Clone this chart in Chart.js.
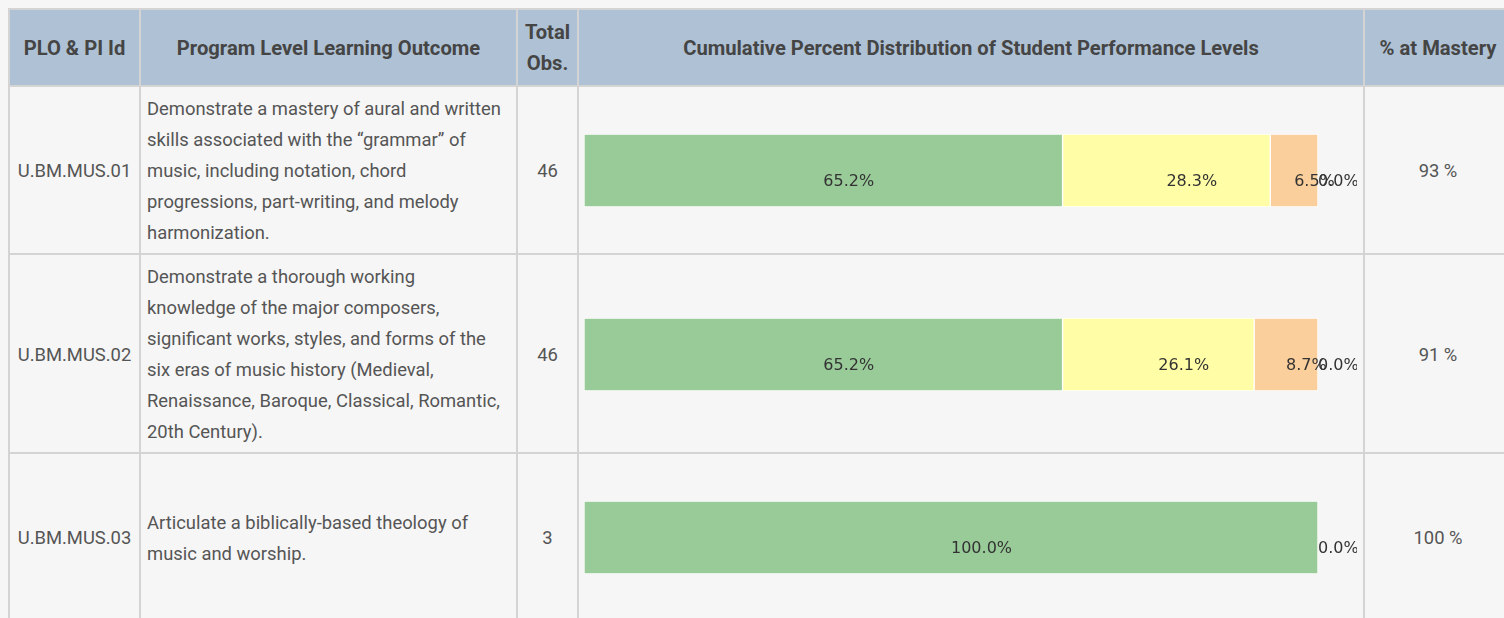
<!DOCTYPE html>
<html>
<head>
<meta charset="utf-8">
<script src="https://cdn.jsdelivr.net/npm/chart.js@4"></script>
<style>
  html, body { margin: 0; padding: 0; background: #f6f6f6; overflow: hidden; }
  body { width: 1504px; height: 618px; position: relative; }
  #plo-table {
    position: absolute; left: 8px; top: 8px;
    border-collapse: collapse; table-layout: fixed; width: 1505px;
    font-family: Roboto, "Noto Sans", sans-serif; color: #555;
    font-size: 18.4px; line-height: 31px;
  }
  #plo-table th, #plo-table td { border: 2px solid #d4d4d4; padding: 6px 6px 5px 6px; }
  #plo-table th { background: #afc1d4; color: #454545; font-weight: bold; font-size: 20.2px; text-align: center; padding: 7px 6px 6px 6px; }
  #plo-table td { text-align: center; vertical-align: middle; }
  #plo-table td.outcome { text-align: left; padding-right: 10px; }
  #plo-table td.chart-cell { padding-left: 5px; }
  .chart-box { position: relative; width: 100%; height: 155px; }
</style>
</head>
<body>
<table id="plo-table">
  <colgroup>
    <col style="width:131px"><col style="width:377px"><col style="width:61px"><col style="width:786px"><col style="width:148px">
  </colgroup>
  <thead>
    <tr>
      <th>PLO &amp; PI Id</th>
      <th>Program Level Learning Outcome</th>
      <th>Total Obs.</th>
      <th>Cumulative Percent Distribution of Student Performance Levels</th>
      <th>% at Mastery</th>
    </tr>
  </thead>
  <tbody id="tableBody"></tbody>
</table>

<script>
const ploIds = ["U.BM.MUS.01", "U.BM.MUS.02", "U.BM.MUS.03"];
const outcomes = [
  "Demonstrate a mastery of aural and written skills associated with the \u201cgrammar\u201d of music, including notation, chord progressions, part-writing, and melody harmonization.",
  "Demonstrate a thorough working knowledge of the major composers, significant works, styles, and forms of the six eras of music history (Medieval, Renaissance, Baroque, Classical, Romantic, 20th Century).",
  "Articulate a biblically-based theology of music and worship."
];
const totalObs = [46, 46, 3];
const levelNames = ["Exceeds", "Meets", "Approaching", "Does Not Meet"];
const exceedsPct = [65.2, 65.2, 100.0];
const meetsPct = [28.3, 26.1, 0.0];
const approachingPct = [6.5, 8.7, 0.0];
const notMeetPct = [0.0, 0.0, 0.0];
const masteryPct = [93, 91, 100];

const levelColors = ["#99cb99", "#fffea6", "#fbcf9b", "#f4a3a3"];
const levelData = [exceedsPct, meetsPct, approachingPct, notMeetPct];

// draws the percent text on each segment (same text on same spot only once)
const segmentLabels = {
  id: "segmentLabels",
  afterDatasetsDraw(chart) {
    const ctx = chart.ctx;
    const done = {};
    ctx.save();
    ctx.font = "16px 'DejaVu Sans'";
    ctx.fillStyle = "#333";
    ctx.textAlign = "left";
    ctx.textBaseline = "top";
    chart.data.datasets.forEach((ds, i) => {
      const meta = chart.getDatasetMeta(i);
      meta.data.forEach((bar, j) => {
        const mid = (bar.x + bar.base) / 2;
        const txt = ds.data[j].toFixed(1) + "%";
        const key = txt + "@" + Math.round(mid);
        if (done[key]) return;
        done[key] = true;
        ctx.fillText(txt, mid, bar.y + 3);
      });
    });
    ctx.restore();
  }
};

const tbody = document.getElementById("tableBody");

ploIds.forEach((id, row) => {
  const tr = document.createElement("tr");

  const idCell = document.createElement("td");
  idCell.textContent = id;
  const outcomeCell = document.createElement("td");
  outcomeCell.classList.add("outcome");
  outcomeCell.textContent = outcomes[row];
  const totalCell = document.createElement("td");
  totalCell.textContent = totalObs[row];
  const chartCell = document.createElement("td");
  chartCell.classList.add("chart-cell");
  const box = document.createElement("div");
  box.classList.add("chart-box");
  const canvas = document.createElement("canvas");
  box.append(canvas);
  chartCell.append(box);
  const masteryCell = document.createElement("td");
  masteryCell.textContent = masteryPct[row] + " %";

  tr.append(idCell, outcomeCell, totalCell, chartCell, masteryCell);
  tbody.append(tr);

  new Chart(canvas.getContext("2d"), {
    type: "bar",
    data: {
      labels: [id],
      datasets: levelNames.map((name, k) => ({
        label: name,
        data: [levelData[k][row]],
        backgroundColor: levelColors[k],
        borderColor: "#ffffff",
        borderWidth: 1,
        borderSkipped: false,
        barThickness: 73
      }))
    },
    options: {
      indexAxis: "y",
      responsive: true,
      maintainAspectRatio: false,
      animation: false,
      layout: { padding: { left: 0, right: 39, top: 0, bottom: 0 } },
      plugins: { legend: { display: false }, tooltip: { enabled: false } },
      scales: {
        x: { stacked: true, min: 0, max: 100, display: false },
        y: { stacked: true, display: false }
      }
    },
    plugins: [segmentLabels]
  });
});
</script>
</body>
</html>
